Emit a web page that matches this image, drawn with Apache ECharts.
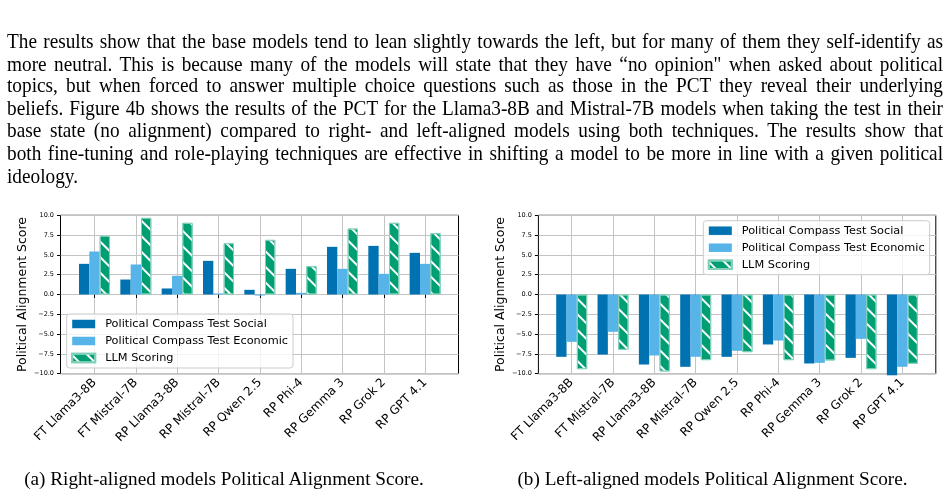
<!DOCTYPE html>
<html>
<head>
<meta charset="utf-8">
<script src="https://cdn.jsdelivr.net/npm/echarts@6/dist/echarts.min.js"></script>
<style>
  body{margin:0;background:#fff;}
  #wrap{position:relative;width:950px;height:493px;overflow:hidden;}
  #main{position:absolute;left:0;top:0;width:950px;height:493px;}
  .para{position:absolute;left:7px;top:30px;width:936px;font-family:"Liberation Serif",serif;font-size:19.3px;line-height:21.6px;color:#000;z-index:2;transform:scaleY(1.04);transform-origin:0 0;}
  .para div{text-align:justify;text-align-last:justify;white-space:nowrap;}
  .para div.last{text-align-last:left;}
  .cap{position:absolute;top:468px;font-family:"Liberation Serif",serif;font-size:19.2px;line-height:21.67px;color:#000;text-align:center;white-space:nowrap;z-index:2;}
</style>
</head>
<body>
<div id="wrap">
  <div id="main"></div>
  <div class="para">
    <div>The results show that the base models tend to lean slightly towards the left, but for many of them they self-identify as</div>
    <div>more neutral. This is because many of the models will state that they have “no opinion" when asked about political</div>
    <div>topics, but when forced to answer multiple choice questions such as those in the PCT they reveal their underlying</div>
    <div>beliefs. Figure 4b shows the results of the PCT for the Llama3-8B and Mistral-7B models when taking the test in their</div>
    <div>base state (no alignment) compared to right- and left-aligned models using both techniques. The results show that</div>
    <div>both fine-tuning and role-playing techniques are effective in shifting a model to be more in line with a given political</div>
    <div class="last">ideology.</div>
  </div>
  <div class="cap" style="left:24px;width:400px;">(a) Right-aligned models Political Alignment Score.</div>
  <div class="cap" style="left:512.5px;width:400px;">(b) Left-aligned models Political Alignment Score.</div>
</div>
<script>
// 数据
const categories = ['FT Llama3-8B', 'FT Mistral-7B', 'RP Llama3-8B', 'RP Mistral-7B', 'RP Qwen 2.5', 'RP Phi-4', 'RP Gemma 3', 'RP Grok 2', 'RP GPT 4.1']
const seriesNames = ['Political Compass Test Social', 'Political Compass Test Economic', 'LLM Scoring']

// (a) right-aligned
const rightSocial = [3.87, 1.89, 0.76, 4.25, 0.59, 3.24, 6.02, 6.14, 5.26]
const rightEconomic = [5.43, 3.79, 2.36, 0.13, -0.13, 0.21, 3.24, 2.61, 3.87]
const rightLLM = [7.41, 9.68, 9.05, 6.48, 6.9, 3.58, 8.33, 9.05, 7.74]

// (b) left-aligned
const leftSocial = [-7.87, -7.58, -8.84, -9.13, -7.87, -6.31, -8.71, -8.0, -10.2]
const leftEconomic = [-5.98, -4.71, -7.7, -7.87, -7.11, -5.81, -8.63, -5.6, -9.13]
const leftLLM = [-9.43, -6.99, -9.72, -8.29, -7.28, -8.29, -8.33, -9.43, -8.75]

const colors = ['#0072B2', '#56B4E9', '#009E73']
const font = 'DejaVu Sans'
const gridColor = '#c4c4c4'

// 位置
const plotTop = 215.3, plotHeight = 158.4
const band = 41.33
const panels = [
  { frameLeft: 60.5, frameWidth: 398, tick0: 94.5, legend: { left: 66.7, top: 314 } },
  { frameLeft: 538.4, frameWidth: 397.4, tick0: 571.7, legend: { left: 703.3, top: 220.7 } }
]
const panelData = [
  [rightSocial, rightEconomic, rightLLM],
  [leftSocial, leftEconomic, leftLLM]
]

const myChart = echarts.init(document.getElementById('main'))

const grid = [], xAxis = [], yAxis = [], series = [], legend = []

panels.forEach((p, i) => {
  // 外框 + y轴
  grid.push({ left: p.frameLeft, top: plotTop, width: p.frameWidth, height: plotHeight, show: true, borderColor: '#000', borderWidth: 1, backgroundColor: 'transparent', outerBoundsMode: 'none' })
  // 柱子
  grid.push({ left: p.tick0 - band / 2, top: plotTop, width: band * categories.length, height: plotHeight, outerBoundsMode: 'none' })

  xAxis.push({ gridIndex: i * 2, type: 'value', min: 0, max: 1, show: false })
  xAxis.push({
    gridIndex: i * 2 + 1,
    type: 'category',
    data: categories,
    axisLine: { show: false },
    axisTick: { show: true, alignWithLabel: true, length: 3.5, lineStyle: { color: '#000', width: 1 } },
    axisLabel: { rotate: 45, fontSize: 12, fontFamily: font, color: '#000', margin: 7, interval: 0 },
    splitLine: { show: true, alignWithLabel: true, lineStyle: { color: gridColor, width: 1 } }
  })

  yAxis.push({
    gridIndex: i * 2,
    type: 'value',
    min: -10,
    max: 10,
    interval: 2.5,
    name: 'Political Alignment Score',
    nameLocation: 'middle',
    nameGap: 31,
    nameTextStyle: { fontSize: 12.5, fontFamily: font, color: '#000' },
    axisLine: { show: false },
    axisTick: { show: true, length: 3.5, lineStyle: { color: '#000', width: 1 } },
    axisLabel: {
      fontSize: 6.5, fontFamily: font, color: '#000', margin: 6.5,
      formatter: v => v.toFixed(1).replace('-', '\u2212')
    },
    splitLine: { show: true, lineStyle: { color: gridColor, width: 1 } }
  })
  yAxis.push({ gridIndex: i * 2 + 1, type: 'value', min: -10, max: 10, show: false })

  panelData[i].forEach((arr, k) => {
    const s = {
      name: seriesNames[k],
      type: 'bar',
      xAxisIndex: i * 2 + 1,
      yAxisIndex: i * 2 + 1,
      data: arr,
      barWidth: band * 0.25,
      barGap: '0%',
      clip: false,
      itemStyle: { color: colors[k] }
    }
    if (k == 2) {
      // 斜线填充 "\\"
      s.itemStyle.borderColor = '#80cfb9'
      s.itemStyle.borderWidth = 1
      s.itemStyle.decal = {
        symbol: 'rect',
        symbolSize: 1,
        dashArrayX: [1, 0],
        dashArrayY: [1.3, 8.2],
        rotation: Math.PI / 4,
        color: '#ffffff'
      }
    }
    series.push(s)
  })

  legend.push({
    orient: 'vertical',
    left: p.legend.left,
    top: p.legend.top,
    data: seriesNames,
    icon: 'rect',
    itemWidth: 23,
    itemHeight: 8.5,
    itemGap: 5,
    padding: [4, 5, 4, 4.5],
    backgroundColor: 'rgba(255,255,255,0.8)',
    borderColor: '#cccccc',
    borderWidth: 1,
    borderRadius: 3,
    selectedMode: false,
    textStyle: { fontSize: 11.3, fontFamily: font, color: '#000', lineHeight: 12, padding: [0, 0, 0, 5] }
  })
})

const option = {
  animation: false,
  grid: grid,
  xAxis: xAxis,
  yAxis: yAxis,
  legend: legend,
  series: series
}

myChart.setOption(option)
</script>
</body>
</html>
